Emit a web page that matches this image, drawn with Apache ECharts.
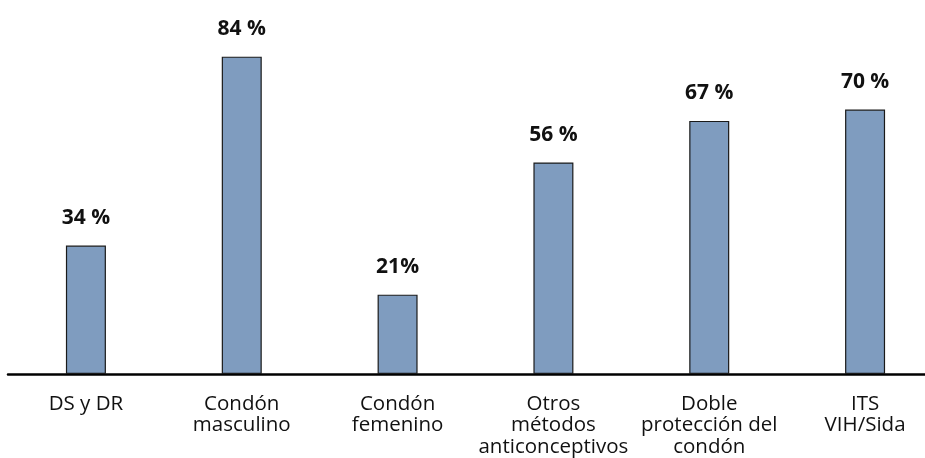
<!DOCTYPE html>
<html>
<head>
<meta charset="utf-8">
<script src="https://cdn.jsdelivr.net/npm/echarts@6/dist/echarts.min.js"></script>
<style>
  html, body { margin: 0; padding: 0; background: #fff; overflow: hidden; }
  #chart { width: 945px; height: 458px; }
</style>
</head>
<body>
<div id="chart"></div>
<script>
// Categories, percentages and label suffixes
const categories = [
  'DS y DR',
  'Condón\nmasculino',
  'Condón\nfemenino',
  'Otros\nmétodos\nanticonceptivos',
  'Doble\nprotección del\ncondón',
  'ITS\nVIH/Sida'
];
const values = [34, 84, 21, 56, 67, 70];
const suffixes = [' %', ' %', '%', ' %', ' %', ' %'];

const chart = echarts.init(document.getElementById('chart'), null, { renderer: 'canvas' });

// The plot runs slightly past the right edge of the visible page,
// so the container is a little wider than the viewport.
chart.setOption({
  animation: false,
  backgroundColor: '#ffffff',
  grid: { left: 8, right: 2, top: 0, bottom: 84, containLabel: false },
  xAxis: {
    type: 'category',
    data: categories,
    axisLine: { show: true, lineStyle: { color: '#000', width: 2.5 } },
    axisTick: { show: false },
    axisLabel: {
      interval: 0,
      margin: 19,
      color: '#111',
      fontFamily: 'Open Sans',
      fontSize: 20.5,
      lineHeight: 21.5
    }
  },
  yAxis: {
    type: 'value',
    min: 0,
    max: 99,
    show: false,
    splitLine: { show: false }
  },
  series: [{
    type: 'bar',
    data: values,
    barWidth: 40,
    itemStyle: { color: '#7f9cbf', borderColor: '#1a1a1a', borderWidth: 1.2 },
    label: {
      show: true,
      position: 'top',
      distance: 17,
      color: '#111',
      fontFamily: 'Open Sans',
      fontWeight: 'bold',
      fontSize: 21,
      formatter: p => p.value + suffixes[p.dataIndex]
    }
  }]
});
</script>
</body>
</html>
